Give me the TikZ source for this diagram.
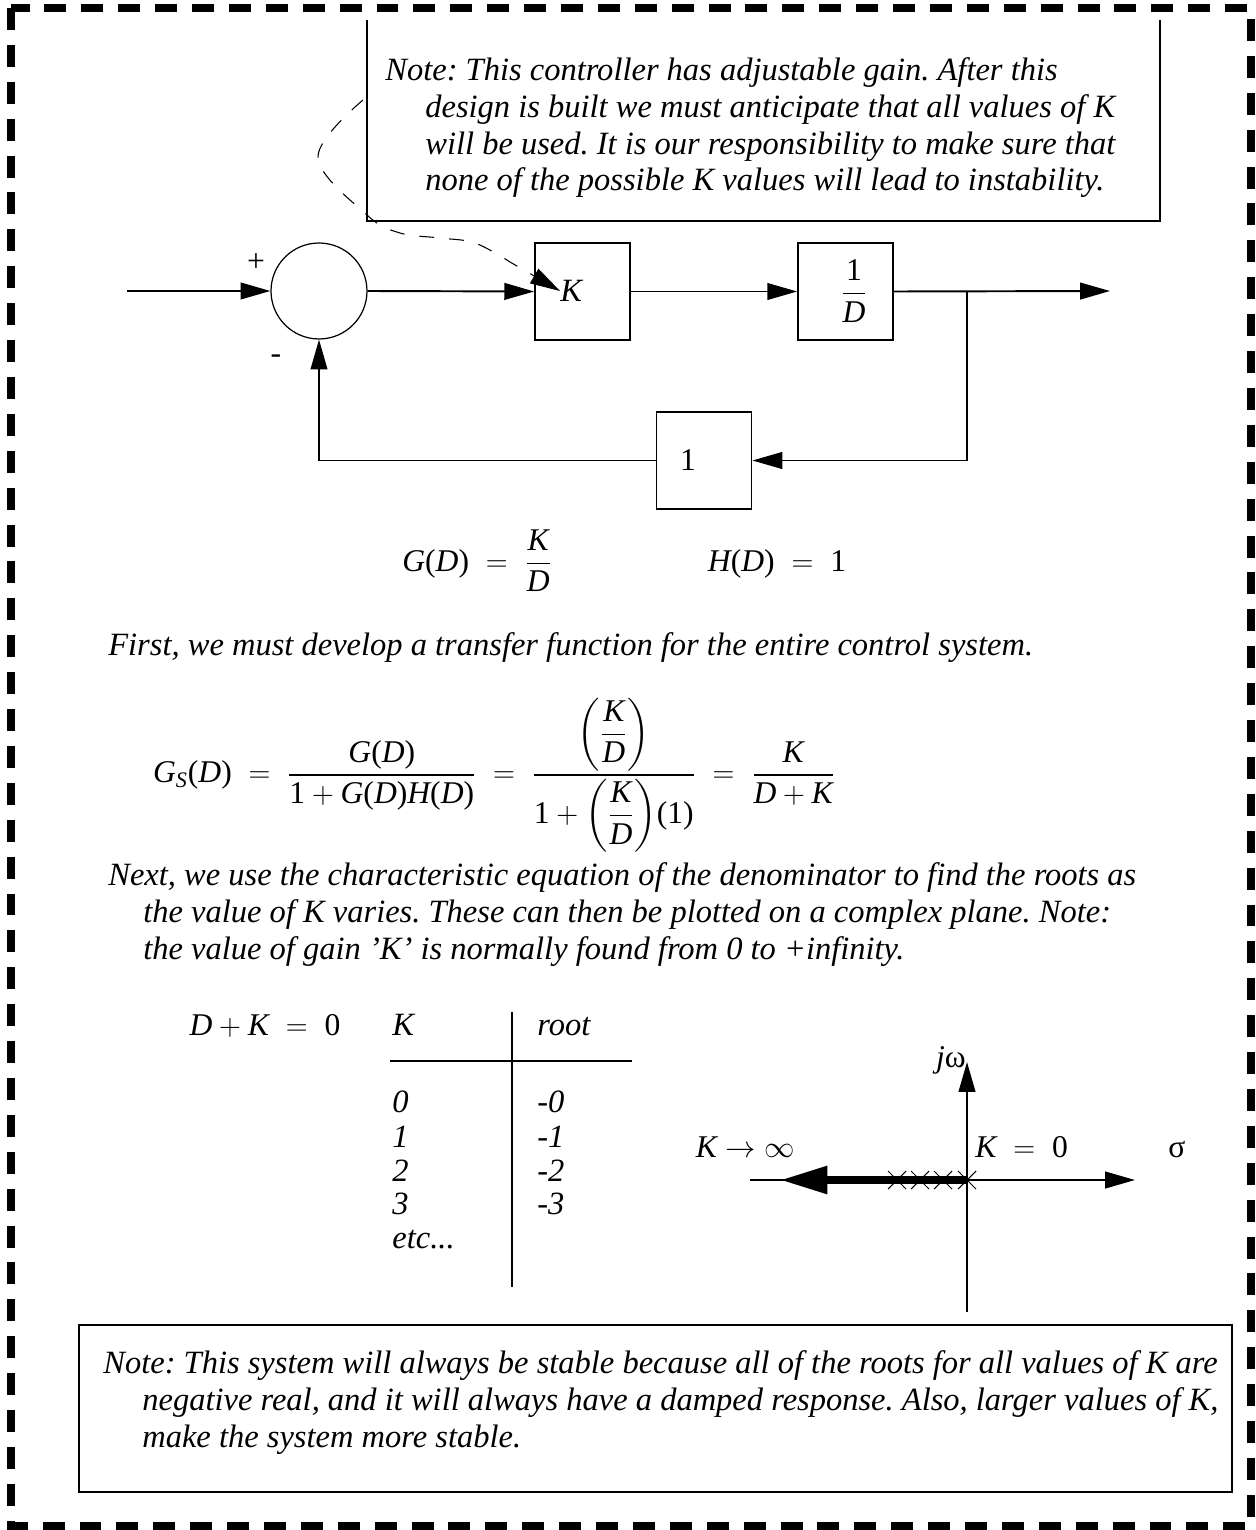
\documentclass[tikz,border=0pt]{standalone}
\usepackage{amsmath}
\usepackage{fontspec}
\setmainfont{Liberation Serif}
\usetikzlibrary{arrows.meta,positioning,calc}

\newcommand{\mv}[1]{\textit{#1}}
\newcommand{\fnof}[2]{\textit{#1}\textup{(}\textit{#2}\textup{)}}
\newcommand{\nm}[1]{\textup{#1}}

\tikzset{
  blk/.style={draw, line width=1pt, minimum width=1.9cm, minimum height=1.94cm, inner sep=0pt},
  sumc/.style={draw, circle, line width=0.7pt, minimum size=1.92cm, inner sep=0pt},
  sig/.style={line width=1.1pt, -{Triangle[length=17pt,width=9.5pt]}},
  txt/.style={font=\frenchspacing\itshape\fontsize{18.5}{21}\selectfont, inner sep=0pt},
  eqn/.style={font=\fontsize{18}{21}\selectfont, inner sep=0pt},
  para/.style={txt, align=left, anchor=north west},
}

\begin{document}
\begin{tikzpicture}[x=0.02cm, y=-0.02cm]
  \useasboundingbox (0,0) rectangle (1256,1530);
  % outer frame
  \draw[line width=5pt, dash pattern=on 12.5pt off 8.5pt] (11,8) rectangle (1251,1526);

  % note on the gain
  \draw[line width=1pt] (367,20) -- (367,221) -- (1160,221) -- (1160,20);
  \node[para] (gainnote) at (385,57) {Note: This controller has adjustable gain. After this\\
    \hspace*{0.8cm}design is built we must anticipate that all values of K\\
    \hspace*{0.8cm}will be used. It is our responsibility to make sure that\\
    \hspace*{0.8cm}none of the possible K values will lead to instability.};

  % block diagram
  \node[sumc] (sum) at (319,291) {};
  \node[blk] (kb) at (582.5,291.5) {};
  \node[txt, anchor=west] (kval) at (560,291) {K};
  \node[blk] (db) at (845.5,291.5) {};
  \node[eqn] (dval) at (854,291) {$\dfrac{\nm{1}}{\mv{D}}$};
  \node[blk] (fb) at (704,460.5) {};
  \node[eqn] (fval) at (688,460) {1};
  \node[eqn] (plus) at (256,263) {+};
  \node[eqn] (minus) at (276,359) {-};
  \coordinate (in) at (127,291);
  \coordinate (out) at (1110,291);
  \coordinate (br) at (967,291);
  \draw[sig] (in) -- (sum.west);
  \draw[sig] (sum.east) -- (kb.west);
  \draw[sig] (kb.east) -- (db.west);
  \draw[sig] (db.east) -- (out);
  \draw[sig] (br) |- (fb.east);
  \draw[sig] (fb.west) -| (sum.south);
  \draw[line width=0.6pt, dash pattern=on 8.5pt off 8.5pt, -{Triangle[length=17pt,width=9.5pt]}]
    plot[smooth, tension=0.6] coordinates {(363,100) (318,157) (367,215) (400,233) (440,238) (475,243) (510,262)} -- (kval.west);

  % open and closed loop functions
  \node[eqn, anchor=base] (gd) at (477,571) {$\fnof{G}{D} \;=\; \dfrac{\mv{K}}{\mv{D}}$};
  \node[eqn, anchor=base] (hd) at (777,571) {$\fnof{H}{D} \;=\; \nm{1}$};
  \node[txt, anchor=base west] (first) at (108,655)
    {First, we must develop a transfer function for the entire control system.};
  \node[eqn] (gs) at (494,775) {$\mv{G}_{\mv{S}}\textup{(}\mv{D}\textup{)} \;=\;
    \dfrac{\fnof{G}{D}}{\nm{1}+\fnof{G}{D}\fnof{H}{D}} \;=\;
    \dfrac{\biggl(\dfrac{\mv{K}}{\mv{D}}\biggr)}{\nm{1}+\biggl(\dfrac{\mv{K}}{\mv{D}}\biggr)\nm{(1)}} \;=\;
    \dfrac{\mv{K}}{\mv{D}+\mv{K}}$};
  \node[para] (next) at (108,862) {Next, we use the characteristic equation of the denominator to find the roots as\\
    \hspace*{0.7cm}the value of K varies. These can then be plotted on a complex plane. Note:\\
    \hspace*{0.7cm}the value of gain 'K' is normally found from 0 to +infinity.};

  % characteristic equation and table
  \node[eqn, anchor=base] (ceq) at (265,1035) {$\mv{D}+\mv{K} \;=\; \nm{0}$};
  \node[txt, anchor=base west] (hk) at (392,1035) {K};
  \node[txt, anchor=base west] (hr) at (537,1035) {root};
  \draw[line width=1pt] (512,1012) -- (512,1287);
  \draw[line width=1pt] (390,1061) -- (632,1061);
  \foreach \kk/\yy in {0/1112, 1/1147, 2/1181, 3/1214} {
    \node[txt, anchor=base west] (k\kk) at (392,\yy) {\kk};
    \node[txt, anchor=base west] (r\kk) at (537,\yy) {-\kk};
  }
  \node[txt, anchor=base west] (etc) at (392,1248) {etc...};

  % root locus
  \coordinate (origin) at (967,1180);
  \coordinate (jtop) at (967,1062);
  \coordinate (jbot) at (967,1312);
  \coordinate (sleft) at (750,1180);
  \coordinate (sright) at (1135,1180);
  \coordinate (kinf) at (780,1180);
  \draw[sig] (jbot) -- (jtop);
  \draw[sig] (sleft) -- (sright);
  \draw[line width=4.5pt, -{Triangle[length=27pt,width=15pt]}] (origin) -- (kinf);
  \foreach \xx in {897,920,943,967} {
    \draw[line width=0.6pt] (\xx-9,1171) -- (\xx+9,1189) (\xx-9,1189) -- (\xx+9,1171);
  }
  \node[eqn, anchor=base east] (jw) at (966,1067) {\mv{j}ω};
  \node[eqn, anchor=base east] (kinflab) at (795,1157) {$\mv{K}\rightarrow\infty$};
  \node[eqn, anchor=base west] (kzero) at (975,1157) {$\mv{K} \;=\; \nm{0}$};
  \node[eqn, anchor=base west] (sig) at (1168,1157) {σ};

  % stability note
  \draw[line width=1pt] (79,1325) rectangle (1232,1492);
  \node[para] (stabnote) at (103,1350) {Note: This system will always be stable because all of the roots for all values of K are\\
    \hspace*{0.78cm}negative real, and it will always have a damped response. Also, larger values of K,\\
    \hspace*{0.78cm}make the system more stable.};
\end{tikzpicture}
\end{document}
